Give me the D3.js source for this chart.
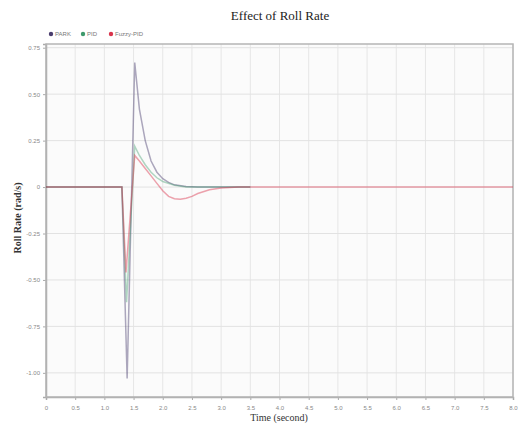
<!DOCTYPE html>
<html>
<head>
<meta charset="utf-8">
<script src="https://cdn.jsdelivr.net/npm/d3@7"></script>
<style>
	body { margin: 0; background: #fff; }
	.tick text { font-family: "Liberation Sans", sans-serif; font-size: 6px; fill: #888; }
</style>
</head>
<body>
<svg id="chart" width="525" height="426"></svg>
<script>
// series data (time in s, roll rate in rad/s)
var seriesNames = ["PARK", "PID", "Fuzzy-PID"];
var seriesColors = ["#4a3d6e", "#3e9a6c", "#d9344c"];

var parkTime = [0, 1.30, 1.39, 1.52, 1.60, 1.70, 1.80, 1.90, 2.00, 2.10, 2.20, 2.40, 2.60, 3.50];
var parkRate = [0, 0, -1.03, 0.67, 0.42, 0.25, 0.14, 0.08, 0.045, 0.025, 0.012, 0.003, 0, 0];

var pidTime = [0, 1.30, 1.38, 1.52, 1.60, 1.70, 1.80, 1.90, 2.00, 2.20, 2.40, 3.50];
var pidRate = [0, 0, -0.62, 0.22, 0.17, 0.12, 0.08, 0.05, 0.03, 0.01, 0, 0];

var fuzzyTime = [0, 1.30, 1.37, 1.52, 1.60, 1.70, 1.80, 1.90, 2.00, 2.10, 2.20, 2.30, 2.40, 2.50, 2.60, 2.80, 3.00, 3.30, 8.00];
var fuzzyRate = [0, 0, -0.46, 0.17, 0.14, 0.10, 0.06, 0.02, -0.02, -0.05, -0.063, -0.065, -0.06, -0.05, -0.035, -0.015, -0.005, 0, 0];

var xTicks = [0, 0.5, 1, 1.5, 2, 2.5, 3, 3.5, 4, 4.5, 5, 5.5, 6, 6.5, 7, 7.5, 8];
var yTicks = [0.75, 0.5, 0.25, 0, -0.25, -0.5, -0.75, -1];

var MARGIN = {top: 44, right: 12, bottom: 29, left: 46};
var svg = d3.select("#chart");
var width = +svg.attr("width") - MARGIN.left - MARGIN.right;
var height = +svg.attr("height") - MARGIN.top - MARGIN.bottom;

var x = d3.scaleLinear().domain([0, 8]).range([0, width]);
var y = d3.scaleLinear().domain([-1.13, 0.77]).range([height, 0]);

var g = svg.append("g").attr("transform", "translate(" + MARGIN.left + "," + MARGIN.top + ")");

g.append("rect")
	.attr("width", width)
	.attr("height", height)
	.attr("fill", "#fbfbfb");

// grid
g.append("g")
	.selectAll("line.vgrid")
	.data(xTicks)
	.enter().append("line")
		.attr("x1", function(d) { return x(d); })
		.attr("x2", function(d) { return x(d); })
		.attr("y1", 0)
		.attr("y2", height)
		.attr("stroke", "#e6e6e6")
		.attr("stroke-width", 1);

g.append("g")
	.selectAll("line.hgrid")
	.data(yTicks)
	.enter().append("line")
		.attr("x1", 0)
		.attr("x2", width)
		.attr("y1", function(d) { return y(d); })
		.attr("y2", function(d) { return y(d); })
		.attr("stroke", "#e2e2e2")
		.attr("stroke-width", 1);

// axes
var xAxis = g.append("g")
	.attr("transform", "translate(0," + height + ")")
	.call(d3.axisBottom(x).tickValues(xTicks).tickSize(3).tickPadding(6)
		.tickFormat(function(d) { return d === 0 ? "0" : d.toFixed(1); }));

var yAxis = g.append("g")
	.call(d3.axisLeft(y).tickValues(yTicks).tickSize(3).tickPadding(3)
		.tickFormat(function(d) { return d === 0 ? "0" : d.toFixed(2); }));

[xAxis, yAxis].forEach(function(a) {
	a.select(".domain").attr("stroke", "#aaa").attr("stroke-width", 1.5);
	a.selectAll(".tick line").attr("stroke", "#aaa");
});

g.append("rect")
	.attr("width", width)
	.attr("height", height)
	.attr("fill", "none")
	.attr("stroke", "#b5b5b5")
	.attr("stroke-width", 1.5);

// lines
var series = [
	{name: seriesNames[0], color: seriesColors[0], t: parkTime, v: parkRate, op: 0.45},
	{name: seriesNames[1], color: seriesColors[1], t: pidTime, v: pidRate, op: 0.4},
	{name: seriesNames[2], color: seriesColors[2], t: fuzzyTime, v: fuzzyRate, op: 0.45}
];

var line = d3.line()
	.x(function(d) { return x(d[0]); })
	.y(function(d) { return y(d[1]); });

g.selectAll("path.series")
	.data(series)
	.enter().append("path")
		.attr("class", "series")
		.attr("d", function(s) { return line(d3.zip(s.t, s.v)); })
		.attr("fill", "none")
		.attr("stroke", function(s) { return s.color; })
		.attr("stroke-opacity", function(s) { return s.op; })
		.attr("stroke-width", 1.5);

// legend
var legendX = [51, 83, 111];
var legend = svg.append("g")
	.selectAll("g")
	.data(series)
	.enter().append("g")
		.attr("transform", function(d, i) { return "translate(" + legendX[i] + ",34)"; });

legend.append("circle")
	.attr("r", 2.2)
	.attr("fill", function(d) { return d.color; });

legend.append("text")
	.attr("x", 4)
	.attr("y", 2)
	.attr("font-family", "Liberation Sans, sans-serif")
	.attr("font-size", 6)
	.attr("fill", "#777")
	.text(function(d) { return d.name; });

// titles
svg.append("text")
	.attr("x", 280)
	.attr("y", 20)
	.attr("text-anchor", "middle")
	.attr("font-family", "Liberation Serif, serif")
	.attr("font-size", 13)
	.attr("fill", "#222")
	.text("Effect of Roll Rate");

svg.append("text")
	.attr("x", 279)
	.attr("y", 421)
	.attr("text-anchor", "middle")
	.attr("font-family", "Liberation Serif, serif")
	.attr("font-size", 10)
	.attr("fill", "#333")
	.text("Time (second)");

svg.append("text")
	.attr("transform", "translate(21,218) rotate(-90)")
	.attr("text-anchor", "middle")
	.attr("font-family", "Liberation Serif, serif")
	.attr("font-size", 10)
	.attr("font-weight", "bold")
	.attr("fill", "#333")
	.text("Roll Rate (rad/s)");
</script>
</body>
</html>
